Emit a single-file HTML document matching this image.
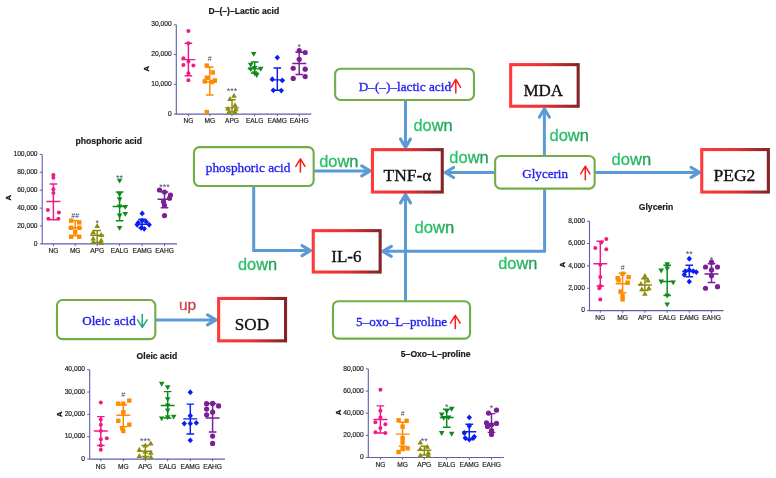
<!DOCTYPE html>
<html><head><meta charset="utf-8"><style>
html,body{margin:0;padding:0;background:#fff;width:776px;height:478px;overflow:hidden;}
svg{display:block;font-family:"Liberation Sans", sans-serif;filter:blur(0.35px);}
</style></head><body>
<svg width="776" height="478" viewBox="0 0 776 478">
<defs>
<linearGradient id="rg" x1="0" y1="0" x2="1" y2="0">
<stop offset="0" stop-color="#ff3a3a"/>
<stop offset="0.5" stop-color="#e43333"/>
<stop offset="1" stop-color="#822428"/>
</linearGradient>
<linearGradient id="dg" x1="0" y1="0" x2="1" y2="0">
<stop offset="0" stop-color="#2cc86e"/>
<stop offset="0.55" stop-color="#27b864"/>
<stop offset="1" stop-color="#1c9a52"/>
</linearGradient>
<linearGradient id="ug" x1="0" y1="0" x2="1" y2="0">
<stop offset="0" stop-color="#e04450"/>
<stop offset="1" stop-color="#b83846"/>
</linearGradient>
</defs>
<rect width="776" height="478" fill="#fff"/>
<text x="243.8" y="14.0" font-family="Liberation Sans" font-weight="bold" font-size="8.6" fill="#1a1a1a" stroke="#1a1a1a" stroke-width="0.2" text-anchor="middle">D–(–)–Lactic acid</text>
<path d="M176.3,24.8 V114.1 H311.3" stroke="#5e5eb0" stroke-width="1.1" fill="none"/>
<path d="M173.8,114.10 H176.3" stroke="#5e5eb0" stroke-width="1"/>
<text x="171.70000000000002" y="115.70" font-family="Liberation Sans" font-size="6.7" fill="#222222" stroke="#222222" stroke-width="0.18" text-anchor="end">0</text>
<path d="M173.8,84.33 H176.3" stroke="#5e5eb0" stroke-width="1"/>
<text x="171.70000000000002" y="85.93" font-family="Liberation Sans" font-size="6.7" fill="#222222" stroke="#222222" stroke-width="0.18" text-anchor="end">10,000</text>
<path d="M173.8,54.57 H176.3" stroke="#5e5eb0" stroke-width="1"/>
<text x="171.70000000000002" y="56.17" font-family="Liberation Sans" font-size="6.7" fill="#222222" stroke="#222222" stroke-width="0.18" text-anchor="end">20,000</text>
<path d="M173.8,24.80 H176.3" stroke="#5e5eb0" stroke-width="1"/>
<text x="171.70000000000002" y="26.40" font-family="Liberation Sans" font-size="6.7" fill="#222222" stroke="#222222" stroke-width="0.18" text-anchor="end">30,000</text>
<text x="0" y="0" transform="translate(148.5,68.7) rotate(-90)" font-family="Liberation Sans" font-weight="bold" font-size="7.5" fill="#111" stroke="#111" stroke-width="0.3" text-anchor="middle">A</text>
<path d="M188.4,114.1 V116.3" stroke="#5e5eb0" stroke-width="1"/>
<text x="188.4" y="123.0" font-family="Liberation Sans" font-size="6.6" fill="#222222" stroke="#222222" stroke-width="0.18" text-anchor="middle">NG</text>
<path d="M188.4,43.26 V75.70 M184.6,43.26 H192.20000000000002 M184.6,75.70 H192.20000000000002 M181.4,59.63 H195.4" stroke="#ee1b84" stroke-width="1.45" fill="none"/>
<circle cx="188.40" cy="31.05" r="2.0" fill="#ee1b84"/>
<circle cx="188.40" cy="43.26" r="2.0" fill="#ee1b84"/>
<circle cx="183.40" cy="58.14" r="2.0" fill="#ee1b84"/>
<circle cx="188.40" cy="61.41" r="2.0" fill="#ee1b84"/>
<circle cx="183.40" cy="64.98" r="2.0" fill="#ee1b84"/>
<circle cx="193.40" cy="65.58" r="2.0" fill="#ee1b84"/>
<circle cx="188.40" cy="73.32" r="2.0" fill="#ee1b84"/>
<circle cx="188.40" cy="80.17" r="2.0" fill="#ee1b84"/>
<path d="M209.8,114.1 V116.3" stroke="#5e5eb0" stroke-width="1"/>
<text x="209.8" y="123.0" font-family="Liberation Sans" font-size="6.6" fill="#222222" stroke="#222222" stroke-width="0.18" text-anchor="middle">MG</text>
<path d="M209.8,67.07 V95.05 M206.0,67.07 H213.60000000000002 M206.0,95.05 H213.60000000000002 M202.8,81.95 H216.8" stroke="#ff8a00" stroke-width="1.45" fill="none"/>
<rect x="204.60" y="63.38" width="4.4" height="4.4" fill="#ff8a00"/>
<rect x="210.60" y="70.23" width="4.4" height="4.4" fill="#ff8a00"/>
<rect x="204.60" y="75.58" width="4.4" height="4.4" fill="#ff8a00"/>
<rect x="212.60" y="78.26" width="4.4" height="4.4" fill="#ff8a00"/>
<rect x="202.60" y="79.16" width="4.4" height="4.4" fill="#ff8a00"/>
<rect x="209.60" y="79.75" width="4.4" height="4.4" fill="#ff8a00"/>
<rect x="204.60" y="109.82" width="4.4" height="4.4" fill="#ff8a00"/>
<text x="209.8" y="61.23" font-family="Liberation Sans" font-size="7" fill="#3a3a6a" text-anchor="middle">#</text>
<path d="M232.0,114.1 V116.3" stroke="#5e5eb0" stroke-width="1"/>
<text x="232.0" y="123.0" font-family="Liberation Sans" font-size="6.6" fill="#222222" stroke="#222222" stroke-width="0.18" text-anchor="middle">APG</text>
<path d="M232.0,99.81 V112.02 M228.2,99.81 H235.8 M228.2,112.02 H235.8 M225.0,107.85 H239.0" stroke="#8c8c10" stroke-width="1.45" fill="none"/>
<path d="M234.00,92.74 L236.80,97.64 L231.20,97.64Z" fill="#8c8c10"/>
<path d="M230.00,96.02 L232.80,100.92 L227.20,100.92Z" fill="#8c8c10"/>
<path d="M235.00,102.27 L237.80,107.17 L232.20,107.17Z" fill="#8c8c10"/>
<path d="M228.00,105.84 L230.80,110.74 L225.20,110.74Z" fill="#8c8c10"/>
<path d="M236.00,106.44 L238.80,111.34 L233.20,111.34Z" fill="#8c8c10"/>
<path d="M229.00,109.12 L231.80,114.02 L226.20,114.02Z" fill="#8c8c10"/>
<path d="M235.00,109.12 L237.80,114.02 L232.20,114.02Z" fill="#8c8c10"/>
<text x="232.0" y="93.61" font-family="Liberation Sans" font-size="9" fill="#4a4a7a" text-anchor="middle">***</text>
<path d="M254.7,114.1 V116.3" stroke="#5e5eb0" stroke-width="1"/>
<text x="254.7" y="123.0" font-family="Liberation Sans" font-size="6.6" fill="#222222" stroke="#222222" stroke-width="0.18" text-anchor="middle">EALG</text>
<path d="M254.7,62.01 V73.02 M250.89999999999998,62.01 H258.5 M250.89999999999998,73.02 H258.5 M247.7,68.85 H261.7" stroke="#0c8a1c" stroke-width="1.45" fill="none"/>
<path d="M253.70,56.87 L256.50,51.97 L250.90,51.97Z" fill="#0c8a1c"/>
<path d="M250.70,67.59 L253.50,62.69 L247.90,62.69Z" fill="#0c8a1c"/>
<path d="M260.70,71.75 L263.50,66.85 L257.90,66.85Z" fill="#0c8a1c"/>
<path d="M250.70,72.05 L253.50,67.15 L247.90,67.15Z" fill="#0c8a1c"/>
<path d="M254.70,70.86 L257.50,65.96 L251.90,65.96Z" fill="#0c8a1c"/>
<path d="M254.70,76.22 L257.50,71.32 L251.90,71.32Z" fill="#0c8a1c"/>
<path d="M256.70,78.01 L259.50,73.11 L253.90,73.11Z" fill="#0c8a1c"/>
<path d="M277.3,114.1 V116.3" stroke="#5e5eb0" stroke-width="1"/>
<text x="277.3" y="123.0" font-family="Liberation Sans" font-size="6.6" fill="#222222" stroke="#222222" stroke-width="0.18" text-anchor="middle">EAMG</text>
<path d="M277.3,67.96 V90.29 M273.5,67.96 H281.1 M273.5,90.29 H281.1 M270.3,79.87 H284.3" stroke="#0a1ef0" stroke-width="1.45" fill="none"/>
<path d="M277.30,54.64 L280.00,57.54 L277.30,60.44 L274.60,57.54Z" fill="#0a1ef0"/>
<path d="M272.30,76.37 L275.00,79.27 L272.30,82.17 L269.60,79.27Z" fill="#0a1ef0"/>
<path d="M282.30,77.56 L285.00,80.46 L282.30,83.36 L279.60,80.46Z" fill="#0a1ef0"/>
<path d="M273.30,87.39 L276.00,90.29 L273.30,93.19 L270.60,90.29Z" fill="#0a1ef0"/>
<path d="M281.30,87.68 L284.00,90.58 L281.30,93.48 L278.60,90.58Z" fill="#0a1ef0"/>
<path d="M299.2,114.1 V116.3" stroke="#5e5eb0" stroke-width="1"/>
<text x="299.2" y="123.0" font-family="Liberation Sans" font-size="6.6" fill="#222222" stroke="#222222" stroke-width="0.18" text-anchor="middle">EAHG</text>
<path d="M299.2,52.19 V74.51 M295.4,52.19 H303.0 M295.4,74.51 H303.0 M292.2,63.50 H306.2" stroke="#7a1f96" stroke-width="1.45" fill="none"/>
<circle cx="299.20" cy="50.70" r="2.6" fill="#7a1f96"/>
<circle cx="305.20" cy="52.48" r="2.6" fill="#7a1f96"/>
<circle cx="299.20" cy="59.33" r="2.6" fill="#7a1f96"/>
<circle cx="293.20" cy="68.26" r="2.6" fill="#7a1f96"/>
<circle cx="305.20" cy="69.15" r="2.6" fill="#7a1f96"/>
<circle cx="293.20" cy="78.38" r="2.6" fill="#7a1f96"/>
<circle cx="305.20" cy="76.59" r="2.6" fill="#7a1f96"/>
<text x="299.2" y="50.44" font-family="Liberation Sans" font-size="9" fill="#4a4a7a" text-anchor="middle">*</text>
<text x="108.8" y="143.5" font-family="Liberation Sans" font-weight="bold" font-size="8.6" fill="#1a1a1a" stroke="#1a1a1a" stroke-width="0.2" text-anchor="middle">phosphoric acid</text>
<path d="M42.2,154.4 V243.9 H177.0" stroke="#5e5eb0" stroke-width="1.1" fill="none"/>
<path d="M39.7,243.90 H42.2" stroke="#5e5eb0" stroke-width="1"/>
<text x="37.6" y="245.50" font-family="Liberation Sans" font-size="6.7" fill="#222222" stroke="#222222" stroke-width="0.18" text-anchor="end">0</text>
<path d="M39.7,226.00 H42.2" stroke="#5e5eb0" stroke-width="1"/>
<text x="37.6" y="227.60" font-family="Liberation Sans" font-size="6.7" fill="#222222" stroke="#222222" stroke-width="0.18" text-anchor="end">20,000</text>
<path d="M39.7,208.10 H42.2" stroke="#5e5eb0" stroke-width="1"/>
<text x="37.6" y="209.70" font-family="Liberation Sans" font-size="6.7" fill="#222222" stroke="#222222" stroke-width="0.18" text-anchor="end">40,000</text>
<path d="M39.7,190.20 H42.2" stroke="#5e5eb0" stroke-width="1"/>
<text x="37.6" y="191.80" font-family="Liberation Sans" font-size="6.7" fill="#222222" stroke="#222222" stroke-width="0.18" text-anchor="end">60,000</text>
<path d="M39.7,172.30 H42.2" stroke="#5e5eb0" stroke-width="1"/>
<text x="37.6" y="173.90" font-family="Liberation Sans" font-size="6.7" fill="#222222" stroke="#222222" stroke-width="0.18" text-anchor="end">80,000</text>
<path d="M39.7,154.40 H42.2" stroke="#5e5eb0" stroke-width="1"/>
<text x="37.6" y="156.00" font-family="Liberation Sans" font-size="6.7" fill="#222222" stroke="#222222" stroke-width="0.18" text-anchor="end">100,000</text>
<text x="0" y="0" transform="translate(10.85,197.8) rotate(-90)" font-family="Liberation Sans" font-weight="bold" font-size="7.5" fill="#111" stroke="#111" stroke-width="0.3" text-anchor="middle">A</text>
<path d="M53.4,243.9 V246.1" stroke="#5e5eb0" stroke-width="1"/>
<text x="53.4" y="253.2" font-family="Liberation Sans" font-size="6.6" fill="#222222" stroke="#222222" stroke-width="0.18" text-anchor="middle">NG</text>
<path d="M53.4,183.94 V219.74 M49.6,183.94 H57.199999999999996 M49.6,219.74 H57.199999999999996 M46.4,201.57 H60.4" stroke="#ee1b84" stroke-width="1.45" fill="none"/>
<circle cx="53.40" cy="174.99" r="2.0" fill="#ee1b84"/>
<circle cx="53.40" cy="177.67" r="2.0" fill="#ee1b84"/>
<circle cx="53.40" cy="189.31" r="2.0" fill="#ee1b84"/>
<circle cx="53.40" cy="192.89" r="2.0" fill="#ee1b84"/>
<circle cx="47.90" cy="209.89" r="2.0" fill="#ee1b84"/>
<circle cx="58.90" cy="212.58" r="2.0" fill="#ee1b84"/>
<circle cx="48.40" cy="218.84" r="2.0" fill="#ee1b84"/>
<circle cx="58.40" cy="218.84" r="2.0" fill="#ee1b84"/>
<path d="M75.2,243.9 V246.1" stroke="#5e5eb0" stroke-width="1"/>
<text x="75.2" y="253.2" font-family="Liberation Sans" font-size="6.6" fill="#222222" stroke="#222222" stroke-width="0.18" text-anchor="middle">MG</text>
<path d="M75.2,220.63 V235.84 M71.4,220.63 H79.0 M71.4,235.84 H79.0 M68.2,227.79 H82.2" stroke="#ff8a00" stroke-width="1.45" fill="none"/>
<rect x="69.00" y="218.43" width="4.4" height="4.4" fill="#ff8a00"/>
<rect x="77.00" y="220.22" width="4.4" height="4.4" fill="#ff8a00"/>
<rect x="69.00" y="225.59" width="4.4" height="4.4" fill="#ff8a00"/>
<rect x="77.00" y="225.59" width="4.4" height="4.4" fill="#ff8a00"/>
<rect x="73.00" y="230.07" width="4.4" height="4.4" fill="#ff8a00"/>
<rect x="69.00" y="234.54" width="4.4" height="4.4" fill="#ff8a00"/>
<rect x="77.00" y="234.54" width="4.4" height="4.4" fill="#ff8a00"/>
<text x="75.2" y="218.12" font-family="Liberation Sans" font-size="7" fill="#3a3a6a" text-anchor="middle">##</text>
<path d="M97.2,243.9 V246.1" stroke="#5e5eb0" stroke-width="1"/>
<text x="97.2" y="253.2" font-family="Liberation Sans" font-size="6.6" fill="#222222" stroke="#222222" stroke-width="0.18" text-anchor="middle">APG</text>
<path d="M97.2,230.47 V242.56 M93.4,230.47 H101.0 M93.4,242.56 H101.0 M90.2,235.22 H104.2" stroke="#8c8c10" stroke-width="1.45" fill="none"/>
<path d="M97.20,223.10 L100.00,228.00 L94.40,228.00Z" fill="#8c8c10"/>
<path d="M93.20,229.37 L96.00,234.27 L90.40,234.27Z" fill="#8c8c10"/>
<path d="M101.20,232.05 L104.00,236.95 L98.40,236.95Z" fill="#8c8c10"/>
<path d="M93.20,235.63 L96.00,240.53 L90.40,240.53Z" fill="#8c8c10"/>
<path d="M101.20,237.42 L104.00,242.32 L98.40,242.32Z" fill="#8c8c10"/>
<path d="M93.20,239.21 L96.00,244.11 L90.40,244.11Z" fill="#8c8c10"/>
<path d="M101.20,240.10 L104.00,245.00 L98.40,245.00Z" fill="#8c8c10"/>
<text x="97.2" y="226.33" font-family="Liberation Sans" font-size="9" fill="#4a4a7a" text-anchor="middle">*</text>
<path d="M119.6,243.9 V246.1" stroke="#5e5eb0" stroke-width="1"/>
<text x="119.6" y="253.2" font-family="Liberation Sans" font-size="6.6" fill="#222222" stroke="#222222" stroke-width="0.18" text-anchor="middle">EALG</text>
<path d="M119.6,191.99 V220.72 M115.8,191.99 H123.39999999999999 M115.8,220.72 H123.39999999999999 M112.6,206.40 H126.6" stroke="#0c8a1c" stroke-width="1.45" fill="none"/>
<path d="M119.60,183.61 L122.40,178.71 L116.80,178.71Z" fill="#0c8a1c"/>
<path d="M119.60,197.04 L122.40,192.14 L116.80,192.14Z" fill="#0c8a1c"/>
<path d="M119.60,202.14 L122.40,197.24 L116.80,197.24Z" fill="#0c8a1c"/>
<path d="M119.60,209.30 L122.40,204.40 L116.80,204.40Z" fill="#0c8a1c"/>
<path d="M125.30,209.84 L128.10,204.94 L122.50,204.94Z" fill="#0c8a1c"/>
<path d="M125.30,216.82 L128.10,211.92 L122.50,211.92Z" fill="#0c8a1c"/>
<path d="M119.60,218.52 L122.40,213.62 L116.80,213.62Z" fill="#0c8a1c"/>
<path d="M119.60,230.78 L122.40,225.88 L116.80,225.88Z" fill="#0c8a1c"/>
<text x="119.6" y="181.04" font-family="Liberation Sans" font-size="9" fill="#4a4a7a" text-anchor="middle">**</text>
<path d="M142.2,243.9 V246.1" stroke="#5e5eb0" stroke-width="1"/>
<text x="142.2" y="253.2" font-family="Liberation Sans" font-size="6.6" fill="#222222" stroke="#222222" stroke-width="0.18" text-anchor="middle">EAMG</text>
<path d="M142.2,219.29 V227.88 M138.39999999999998,219.29 H146.0 M138.39999999999998,227.88 H146.0 M135.2,224.21 H149.2" stroke="#0a1ef0" stroke-width="1.45" fill="none"/>
<path d="M142.20,210.57 L144.90,213.47 L142.20,216.37 L139.50,213.47Z" fill="#0a1ef0"/>
<path d="M142.20,217.82 L144.90,220.72 L142.20,223.62 L139.50,220.72Z" fill="#0a1ef0"/>
<path d="M138.20,219.79 L140.90,222.69 L138.20,225.59 L135.50,222.69Z" fill="#0a1ef0"/>
<path d="M146.20,218.80 L148.90,221.70 L146.20,224.60 L143.50,221.70Z" fill="#0a1ef0"/>
<path d="M149.20,221.85 L151.90,224.75 L149.20,227.65 L146.50,224.75Z" fill="#0a1ef0"/>
<path d="M137.20,221.85 L139.90,224.75 L137.20,227.65 L134.50,224.75Z" fill="#0a1ef0"/>
<path d="M141.20,224.98 L143.90,227.88 L141.20,230.78 L138.50,227.88Z" fill="#0a1ef0"/>
<path d="M144.20,225.96 L146.90,228.86 L144.20,231.76 L141.50,228.86Z" fill="#0a1ef0"/>
<path d="M164.5,243.9 V246.1" stroke="#5e5eb0" stroke-width="1"/>
<text x="164.5" y="253.2" font-family="Liberation Sans" font-size="6.6" fill="#222222" stroke="#222222" stroke-width="0.18" text-anchor="middle">EAHG</text>
<path d="M164.5,191.99 V207.83 M160.7,191.99 H168.3 M160.7,207.83 H168.3 M157.5,199.24 H171.5" stroke="#7a1f96" stroke-width="1.45" fill="none"/>
<circle cx="159.50" cy="190.02" r="2.6" fill="#7a1f96"/>
<circle cx="164.50" cy="191.99" r="2.6" fill="#7a1f96"/>
<circle cx="170.50" cy="195.12" r="2.6" fill="#7a1f96"/>
<circle cx="169.50" cy="198.25" r="2.6" fill="#7a1f96"/>
<circle cx="163.50" cy="201.84" r="2.6" fill="#7a1f96"/>
<circle cx="164.50" cy="205.42" r="2.6" fill="#7a1f96"/>
<circle cx="164.50" cy="215.62" r="2.6" fill="#7a1f96"/>
<text x="164.5" y="190.08" font-family="Liberation Sans" font-size="9" fill="#4a4a7a" text-anchor="middle">***</text>
<text x="656.0" y="209.8" font-family="Liberation Sans" font-weight="bold" font-size="8.6" fill="#1a1a1a" stroke="#1a1a1a" stroke-width="0.2" text-anchor="middle">Glycerin</text>
<path d="M589.5,221.2 V310.6 H723.5" stroke="#5e5eb0" stroke-width="1.1" fill="none"/>
<path d="M587.0,310.60 H589.5" stroke="#5e5eb0" stroke-width="1"/>
<text x="584.9" y="312.20" font-family="Liberation Sans" font-size="6.7" fill="#222222" stroke="#222222" stroke-width="0.18" text-anchor="end">0</text>
<path d="M587.0,288.25 H589.5" stroke="#5e5eb0" stroke-width="1"/>
<text x="584.9" y="289.85" font-family="Liberation Sans" font-size="6.7" fill="#222222" stroke="#222222" stroke-width="0.18" text-anchor="end">2,000</text>
<path d="M587.0,265.90 H589.5" stroke="#5e5eb0" stroke-width="1"/>
<text x="584.9" y="267.50" font-family="Liberation Sans" font-size="6.7" fill="#222222" stroke="#222222" stroke-width="0.18" text-anchor="end">4,000</text>
<path d="M587.0,243.55 H589.5" stroke="#5e5eb0" stroke-width="1"/>
<text x="584.9" y="245.15" font-family="Liberation Sans" font-size="6.7" fill="#222222" stroke="#222222" stroke-width="0.18" text-anchor="end">6,000</text>
<path d="M587.0,221.20 H589.5" stroke="#5e5eb0" stroke-width="1"/>
<text x="584.9" y="222.80" font-family="Liberation Sans" font-size="6.7" fill="#222222" stroke="#222222" stroke-width="0.18" text-anchor="end">8,000</text>
<text x="0" y="0" transform="translate(564.85,264.7) rotate(-90)" font-family="Liberation Sans" font-weight="bold" font-size="7.5" fill="#111" stroke="#111" stroke-width="0.3" text-anchor="middle">A</text>
<path d="M600.3,310.6 V312.8" stroke="#5e5eb0" stroke-width="1"/>
<text x="600.3" y="319.5" font-family="Liberation Sans" font-size="6.6" fill="#222222" stroke="#222222" stroke-width="0.18" text-anchor="middle">NG</text>
<path d="M600.3,241.31 V286.01 M596.5,241.31 H604.0999999999999 M596.5,286.01 H604.0999999999999 M593.3,263.67 H607.3" stroke="#ee1b84" stroke-width="1.45" fill="none"/>
<circle cx="606.30" cy="239.08" r="2.0" fill="#ee1b84"/>
<circle cx="601.30" cy="242.43" r="2.0" fill="#ee1b84"/>
<circle cx="595.30" cy="248.02" r="2.0" fill="#ee1b84"/>
<circle cx="606.30" cy="249.14" r="2.0" fill="#ee1b84"/>
<circle cx="600.30" cy="264.78" r="2.0" fill="#ee1b84"/>
<circle cx="600.30" cy="277.07" r="2.0" fill="#ee1b84"/>
<circle cx="600.30" cy="286.01" r="2.0" fill="#ee1b84"/>
<circle cx="599.30" cy="288.25" r="2.0" fill="#ee1b84"/>
<circle cx="600.30" cy="299.43" r="2.0" fill="#ee1b84"/>
<path d="M622.6,310.6 V312.8" stroke="#5e5eb0" stroke-width="1"/>
<text x="622.6" y="319.5" font-family="Liberation Sans" font-size="6.6" fill="#222222" stroke="#222222" stroke-width="0.18" text-anchor="middle">MG</text>
<path d="M622.6,273.16 V292.72 M618.8000000000001,273.16 H626.4 M618.8000000000001,292.72 H626.4 M615.6,283.78 H629.6" stroke="#ff8a00" stroke-width="1.45" fill="none"/>
<rect x="620.40" y="271.52" width="4.4" height="4.4" fill="#ff8a00"/>
<rect x="626.40" y="274.88" width="4.4" height="4.4" fill="#ff8a00"/>
<rect x="615.40" y="275.99" width="4.4" height="4.4" fill="#ff8a00"/>
<rect x="616.40" y="278.23" width="4.4" height="4.4" fill="#ff8a00"/>
<rect x="625.40" y="280.46" width="4.4" height="4.4" fill="#ff8a00"/>
<rect x="618.40" y="289.40" width="4.4" height="4.4" fill="#ff8a00"/>
<rect x="620.40" y="293.87" width="4.4" height="4.4" fill="#ff8a00"/>
<rect x="620.40" y="297.23" width="4.4" height="4.4" fill="#ff8a00"/>
<text x="622.6" y="270.08" font-family="Liberation Sans" font-size="7" fill="#3a3a6a" text-anchor="middle">#</text>
<path d="M644.9,310.6 V312.8" stroke="#5e5eb0" stroke-width="1"/>
<text x="644.9" y="319.5" font-family="Liberation Sans" font-size="6.6" fill="#222222" stroke="#222222" stroke-width="0.18" text-anchor="middle">APG</text>
<path d="M644.9,278.75 V290.49 M641.1,278.75 H648.6999999999999 M641.1,290.49 H648.6999999999999 M637.9,284.90 H651.9" stroke="#8c8c10" stroke-width="1.45" fill="none"/>
<path d="M644.90,273.06 L647.70,277.96 L642.10,277.96Z" fill="#8c8c10"/>
<path d="M647.90,277.53 L650.70,282.43 L645.10,282.43Z" fill="#8c8c10"/>
<path d="M640.90,280.88 L643.70,285.78 L638.10,285.78Z" fill="#8c8c10"/>
<path d="M648.90,285.35 L651.70,290.25 L646.10,290.25Z" fill="#8c8c10"/>
<path d="M641.90,286.47 L644.70,291.37 L639.10,291.37Z" fill="#8c8c10"/>
<path d="M644.90,290.94 L647.70,295.84 L642.10,295.84Z" fill="#8c8c10"/>
<path d="M667.2,310.6 V312.8" stroke="#5e5eb0" stroke-width="1"/>
<text x="667.2" y="319.5" font-family="Liberation Sans" font-size="6.6" fill="#222222" stroke="#222222" stroke-width="0.18" text-anchor="middle">EALG</text>
<path d="M667.2,265.34 V295.51 M663.4000000000001,265.34 H671.0 M663.4000000000001,295.51 H671.0 M660.2,281.55 H674.2" stroke="#0c8a1c" stroke-width="1.45" fill="none"/>
<path d="M667.20,267.24 L670.00,262.34 L664.40,262.34Z" fill="#0c8a1c"/>
<path d="M667.20,271.37 L670.00,266.47 L664.40,266.47Z" fill="#0c8a1c"/>
<path d="M661.20,273.49 L664.00,268.59 L658.40,268.59Z" fill="#0c8a1c"/>
<path d="M661.20,284.44 L664.00,279.55 L658.40,279.55Z" fill="#0c8a1c"/>
<path d="M673.20,285.34 L676.00,280.44 L670.40,280.44Z" fill="#0c8a1c"/>
<path d="M667.20,298.41 L670.00,293.51 L664.40,293.51Z" fill="#0c8a1c"/>
<path d="M667.20,307.35 L670.00,302.45 L664.40,302.45Z" fill="#0c8a1c"/>
<path d="M689.3,310.6 V312.8" stroke="#5e5eb0" stroke-width="1"/>
<text x="689.3" y="319.5" font-family="Liberation Sans" font-size="6.6" fill="#222222" stroke="#222222" stroke-width="0.18" text-anchor="middle">EAMG</text>
<path d="M689.3,265.34 V276.74 M685.5,265.34 H693.0999999999999 M685.5,276.74 H693.0999999999999 M682.3,271.49 H696.3" stroke="#0a1ef0" stroke-width="1.45" fill="none"/>
<path d="M689.30,255.85 L692.00,258.75 L689.30,261.65 L686.60,258.75Z" fill="#0a1ef0"/>
<path d="M689.30,267.02 L692.00,269.92 L689.30,272.82 L686.60,269.92Z" fill="#0a1ef0"/>
<path d="M685.30,268.25 L688.00,271.15 L685.30,274.05 L682.60,271.15Z" fill="#0a1ef0"/>
<path d="M693.30,268.25 L696.00,271.15 L693.30,274.05 L690.60,271.15Z" fill="#0a1ef0"/>
<path d="M696.30,269.15 L699.00,272.05 L696.30,274.95 L693.60,272.05Z" fill="#0a1ef0"/>
<path d="M684.30,271.83 L687.00,274.73 L684.30,277.63 L681.60,274.73Z" fill="#0a1ef0"/>
<path d="M689.30,278.65 L692.00,281.55 L689.30,284.44 L686.60,281.55Z" fill="#0a1ef0"/>
<text x="689.3" y="257.07" font-family="Liberation Sans" font-size="9" fill="#4a4a7a" text-anchor="middle">**</text>
<path d="M711.5,310.6 V312.8" stroke="#5e5eb0" stroke-width="1"/>
<text x="711.5" y="319.5" font-family="Liberation Sans" font-size="6.6" fill="#222222" stroke="#222222" stroke-width="0.18" text-anchor="middle">EAHG</text>
<path d="M711.5,263.67 V282.44 M707.7,263.67 H715.3 M707.7,282.44 H715.3 M704.5,274.06 H718.5" stroke="#7a1f96" stroke-width="1.45" fill="none"/>
<circle cx="711.50" cy="262.21" r="2.6" fill="#7a1f96"/>
<circle cx="705.50" cy="267.02" r="2.6" fill="#7a1f96"/>
<circle cx="717.50" cy="267.02" r="2.6" fill="#7a1f96"/>
<circle cx="711.50" cy="269.92" r="2.6" fill="#7a1f96"/>
<circle cx="711.50" cy="275.73" r="2.6" fill="#7a1f96"/>
<circle cx="705.50" cy="288.25" r="2.6" fill="#7a1f96"/>
<circle cx="717.50" cy="286.69" r="2.6" fill="#7a1f96"/>
<text x="711.5" y="263.22" font-family="Liberation Sans" font-size="9" fill="#4a4a7a" text-anchor="middle">*</text>
<text x="156.9" y="359.0" font-family="Liberation Sans" font-weight="bold" font-size="8.6" fill="#1a1a1a" stroke="#1a1a1a" stroke-width="0.2" text-anchor="middle">Oleic acid</text>
<path d="M89.7,369.7 V459.1 H225.0" stroke="#5e5eb0" stroke-width="1.1" fill="none"/>
<path d="M87.2,459.10 H89.7" stroke="#5e5eb0" stroke-width="1"/>
<text x="85.10000000000001" y="460.70" font-family="Liberation Sans" font-size="6.7" fill="#222222" stroke="#222222" stroke-width="0.18" text-anchor="end">0</text>
<path d="M87.2,436.75 H89.7" stroke="#5e5eb0" stroke-width="1"/>
<text x="85.10000000000001" y="438.35" font-family="Liberation Sans" font-size="6.7" fill="#222222" stroke="#222222" stroke-width="0.18" text-anchor="end">10,000</text>
<path d="M87.2,414.40 H89.7" stroke="#5e5eb0" stroke-width="1"/>
<text x="85.10000000000001" y="416.00" font-family="Liberation Sans" font-size="6.7" fill="#222222" stroke="#222222" stroke-width="0.18" text-anchor="end">20,000</text>
<path d="M87.2,392.05 H89.7" stroke="#5e5eb0" stroke-width="1"/>
<text x="85.10000000000001" y="393.65" font-family="Liberation Sans" font-size="6.7" fill="#222222" stroke="#222222" stroke-width="0.18" text-anchor="end">30,000</text>
<path d="M87.2,369.70 H89.7" stroke="#5e5eb0" stroke-width="1"/>
<text x="85.10000000000001" y="371.30" font-family="Liberation Sans" font-size="6.7" fill="#222222" stroke="#222222" stroke-width="0.18" text-anchor="end">40,000</text>
<text x="0" y="0" transform="translate(61.65,414.2) rotate(-90)" font-family="Liberation Sans" font-weight="bold" font-size="7.5" fill="#111" stroke="#111" stroke-width="0.3" text-anchor="middle">A</text>
<path d="M100.8,459.1 V461.3" stroke="#5e5eb0" stroke-width="1"/>
<text x="100.8" y="468.6" font-family="Liberation Sans" font-size="6.6" fill="#222222" stroke="#222222" stroke-width="0.18" text-anchor="middle">NG</text>
<path d="M100.8,416.63 V445.47 M97.0,416.63 H104.6 M97.0,445.47 H104.6 M93.8,430.94 H107.8" stroke="#ee1b84" stroke-width="1.45" fill="none"/>
<circle cx="100.80" cy="402.55" r="2.0" fill="#ee1b84"/>
<circle cx="100.80" cy="419.54" r="2.0" fill="#ee1b84"/>
<circle cx="100.80" cy="424.68" r="2.0" fill="#ee1b84"/>
<circle cx="100.80" cy="430.94" r="2.0" fill="#ee1b84"/>
<circle cx="106.80" cy="438.31" r="2.0" fill="#ee1b84"/>
<circle cx="100.80" cy="439.21" r="2.0" fill="#ee1b84"/>
<circle cx="100.80" cy="445.47" r="2.0" fill="#ee1b84"/>
<circle cx="100.80" cy="449.71" r="2.0" fill="#ee1b84"/>
<path d="M123.3,459.1 V461.3" stroke="#5e5eb0" stroke-width="1"/>
<text x="123.3" y="468.6" font-family="Liberation Sans" font-size="6.6" fill="#222222" stroke="#222222" stroke-width="0.18" text-anchor="middle">MG</text>
<path d="M123.3,404.79 V426.69 M119.5,404.79 H127.1 M119.5,426.69 H127.1 M116.3,415.29 H130.3" stroke="#ff8a00" stroke-width="1.45" fill="none"/>
<rect x="127.10" y="398.34" width="4.4" height="4.4" fill="#ff8a00"/>
<rect x="116.10" y="401.47" width="4.4" height="4.4" fill="#ff8a00"/>
<rect x="121.10" y="401.47" width="4.4" height="4.4" fill="#ff8a00"/>
<rect x="121.10" y="409.97" width="4.4" height="4.4" fill="#ff8a00"/>
<rect x="116.10" y="418.68" width="4.4" height="4.4" fill="#ff8a00"/>
<rect x="127.10" y="422.48" width="4.4" height="4.4" fill="#ff8a00"/>
<rect x="120.10" y="426.28" width="4.4" height="4.4" fill="#ff8a00"/>
<rect x="121.10" y="428.74" width="4.4" height="4.4" fill="#ff8a00"/>
<text x="123.3" y="396.78" font-family="Liberation Sans" font-size="7" fill="#3a3a6a" text-anchor="middle">#</text>
<path d="M145.3,459.1 V461.3" stroke="#5e5eb0" stroke-width="1"/>
<text x="145.3" y="468.6" font-family="Liberation Sans" font-size="6.6" fill="#222222" stroke="#222222" stroke-width="0.18" text-anchor="middle">APG</text>
<path d="M145.3,445.47 V456.42 M141.5,445.47 H149.10000000000002 M141.5,456.42 H149.10000000000002 M138.3,451.28 H152.3" stroke="#8c8c10" stroke-width="1.45" fill="none"/>
<path d="M150.80,440.56 L153.60,445.46 L148.00,445.46Z" fill="#8c8c10"/>
<path d="M145.30,442.57 L148.10,447.47 L142.50,447.47Z" fill="#8c8c10"/>
<path d="M139.30,446.81 L142.10,451.71 L136.50,451.71Z" fill="#8c8c10"/>
<path d="M145.30,448.82 L148.10,453.72 L142.50,453.72Z" fill="#8c8c10"/>
<path d="M150.80,449.94 L153.60,454.84 L148.00,454.84Z" fill="#8c8c10"/>
<path d="M139.30,453.07 L142.10,457.97 L136.50,457.97Z" fill="#8c8c10"/>
<path d="M145.30,454.19 L148.10,459.09 L142.50,459.09Z" fill="#8c8c10"/>
<path d="M150.80,454.19 L153.60,459.09 L148.00,459.09Z" fill="#8c8c10"/>
<text x="145.3" y="444.01" font-family="Liberation Sans" font-size="9" fill="#4a4a7a" text-anchor="middle">***</text>
<path d="M167.7,459.1 V461.3" stroke="#5e5eb0" stroke-width="1"/>
<text x="167.7" y="468.6" font-family="Liberation Sans" font-size="6.6" fill="#222222" stroke="#222222" stroke-width="0.18" text-anchor="middle">EALG</text>
<path d="M167.7,391.60 V417.98 M163.89999999999998,391.60 H171.5 M163.89999999999998,417.98 H171.5 M160.7,405.46 H174.7" stroke="#0c8a1c" stroke-width="1.45" fill="none"/>
<path d="M161.70,386.68 L164.50,381.78 L158.90,381.78Z" fill="#0c8a1c"/>
<path d="M167.70,390.26 L170.50,385.36 L164.90,385.36Z" fill="#0c8a1c"/>
<path d="M167.70,402.10 L170.50,397.20 L164.90,397.20Z" fill="#0c8a1c"/>
<path d="M167.70,408.36 L170.50,403.46 L164.90,403.46Z" fill="#0c8a1c"/>
<path d="M167.70,413.28 L170.50,408.38 L164.90,408.38Z" fill="#0c8a1c"/>
<path d="M167.70,420.21 L170.50,415.31 L164.90,415.31Z" fill="#0c8a1c"/>
<path d="M161.70,421.32 L164.50,416.42 L158.90,416.42Z" fill="#0c8a1c"/>
<path d="M173.70,419.53 L176.50,414.63 L170.90,414.63Z" fill="#0c8a1c"/>
<path d="M190.3,459.1 V461.3" stroke="#5e5eb0" stroke-width="1"/>
<text x="190.3" y="468.6" font-family="Liberation Sans" font-size="6.6" fill="#222222" stroke="#222222" stroke-width="0.18" text-anchor="middle">EAMG</text>
<path d="M190.3,404.12 V434.07 M186.5,404.12 H194.10000000000002 M186.5,434.07 H194.10000000000002 M183.3,418.87 H197.3" stroke="#0a1ef0" stroke-width="1.45" fill="none"/>
<path d="M190.30,389.37 L193.00,392.27 L190.30,395.17 L187.60,392.27Z" fill="#0a1ef0"/>
<path d="M190.30,412.84 L193.00,415.74 L190.30,418.64 L187.60,415.74Z" fill="#0a1ef0"/>
<path d="M184.30,420.66 L187.00,423.56 L184.30,426.46 L181.60,423.56Z" fill="#0a1ef0"/>
<path d="M196.30,419.99 L199.00,422.89 L196.30,425.79 L193.60,422.89Z" fill="#0a1ef0"/>
<path d="M190.30,420.66 L193.00,423.56 L190.30,426.46 L187.60,423.56Z" fill="#0a1ef0"/>
<path d="M190.30,437.43 L193.00,440.33 L190.30,443.23 L187.60,440.33Z" fill="#0a1ef0"/>
<path d="M212.6,459.1 V461.3" stroke="#5e5eb0" stroke-width="1"/>
<text x="212.6" y="468.6" font-family="Liberation Sans" font-size="6.6" fill="#222222" stroke="#222222" stroke-width="0.18" text-anchor="middle">EAHG</text>
<path d="M212.6,403.45 V432.06 M208.79999999999998,403.45 H216.4 M208.79999999999998,432.06 H216.4 M205.6,417.98 H219.6" stroke="#7a1f96" stroke-width="1.45" fill="none"/>
<circle cx="206.60" cy="403.67" r="2.6" fill="#7a1f96"/>
<circle cx="212.60" cy="403.45" r="2.6" fill="#7a1f96"/>
<circle cx="218.60" cy="405.91" r="2.6" fill="#7a1f96"/>
<circle cx="206.60" cy="409.04" r="2.6" fill="#7a1f96"/>
<circle cx="212.60" cy="412.17" r="2.6" fill="#7a1f96"/>
<circle cx="206.60" cy="414.85" r="2.6" fill="#7a1f96"/>
<circle cx="212.60" cy="436.08" r="2.6" fill="#7a1f96"/>
<circle cx="212.60" cy="443.46" r="2.6" fill="#7a1f96"/>
<text x="435.7" y="357.2" font-family="Liberation Sans" font-weight="bold" font-size="8.6" fill="#1a1a1a" stroke="#1a1a1a" stroke-width="0.2" text-anchor="middle">5–Oxo–L–proline</text>
<path d="M368.3,368.9 V457.5 H504.0" stroke="#5e5eb0" stroke-width="1.1" fill="none"/>
<path d="M365.8,457.50 H368.3" stroke="#5e5eb0" stroke-width="1"/>
<text x="363.7" y="459.10" font-family="Liberation Sans" font-size="6.7" fill="#222222" stroke="#222222" stroke-width="0.18" text-anchor="end">0</text>
<path d="M365.8,435.35 H368.3" stroke="#5e5eb0" stroke-width="1"/>
<text x="363.7" y="436.95" font-family="Liberation Sans" font-size="6.7" fill="#222222" stroke="#222222" stroke-width="0.18" text-anchor="end">20,000</text>
<path d="M365.8,413.20 H368.3" stroke="#5e5eb0" stroke-width="1"/>
<text x="363.7" y="414.80" font-family="Liberation Sans" font-size="6.7" fill="#222222" stroke="#222222" stroke-width="0.18" text-anchor="end">40,000</text>
<path d="M365.8,391.05 H368.3" stroke="#5e5eb0" stroke-width="1"/>
<text x="363.7" y="392.65" font-family="Liberation Sans" font-size="6.7" fill="#222222" stroke="#222222" stroke-width="0.18" text-anchor="end">60,000</text>
<path d="M365.8,368.90 H368.3" stroke="#5e5eb0" stroke-width="1"/>
<text x="363.7" y="370.50" font-family="Liberation Sans" font-size="6.7" fill="#222222" stroke="#222222" stroke-width="0.18" text-anchor="end">80,000</text>
<text x="0" y="0" transform="translate(340.75,412.6) rotate(-90)" font-family="Liberation Sans" font-weight="bold" font-size="7.5" fill="#111" stroke="#111" stroke-width="0.3" text-anchor="middle">A</text>
<path d="M380.4,457.5 V459.7" stroke="#5e5eb0" stroke-width="1"/>
<text x="380.4" y="467.2" font-family="Liberation Sans" font-size="6.6" fill="#222222" stroke="#222222" stroke-width="0.18" text-anchor="middle">NG</text>
<path d="M380.4,405.89 V433.02 M376.59999999999997,405.89 H384.2 M376.59999999999997,433.02 H384.2 M373.4,419.40 H387.4" stroke="#ee1b84" stroke-width="1.45" fill="none"/>
<circle cx="380.40" cy="389.72" r="2.0" fill="#ee1b84"/>
<circle cx="380.40" cy="410.76" r="2.0" fill="#ee1b84"/>
<circle cx="380.40" cy="417.41" r="2.0" fill="#ee1b84"/>
<circle cx="375.40" cy="422.28" r="2.0" fill="#ee1b84"/>
<circle cx="385.40" cy="424.27" r="2.0" fill="#ee1b84"/>
<circle cx="380.40" cy="428.04" r="2.0" fill="#ee1b84"/>
<circle cx="375.40" cy="432.36" r="2.0" fill="#ee1b84"/>
<circle cx="385.40" cy="433.02" r="2.0" fill="#ee1b84"/>
<path d="M402.6,457.5 V459.7" stroke="#5e5eb0" stroke-width="1"/>
<text x="402.6" y="467.2" font-family="Liberation Sans" font-size="6.6" fill="#222222" stroke="#222222" stroke-width="0.18" text-anchor="middle">MG</text>
<path d="M402.6,422.28 V446.20 M398.8,422.28 H406.40000000000003 M398.8,446.20 H406.40000000000003 M395.6,434.13 H409.6" stroke="#ff8a00" stroke-width="1.45" fill="none"/>
<rect x="396.40" y="418.09" width="4.4" height="4.4" fill="#ff8a00"/>
<rect x="404.40" y="418.64" width="4.4" height="4.4" fill="#ff8a00"/>
<rect x="400.40" y="424.40" width="4.4" height="4.4" fill="#ff8a00"/>
<rect x="400.40" y="435.92" width="4.4" height="4.4" fill="#ff8a00"/>
<rect x="400.40" y="440.24" width="4.4" height="4.4" fill="#ff8a00"/>
<rect x="405.40" y="446.11" width="4.4" height="4.4" fill="#ff8a00"/>
<rect x="400.40" y="446.88" width="4.4" height="4.4" fill="#ff8a00"/>
<rect x="396.40" y="449.76" width="4.4" height="4.4" fill="#ff8a00"/>
<text x="402.6" y="416.14" font-family="Liberation Sans" font-size="7" fill="#3a3a6a" text-anchor="middle">#</text>
<path d="M424.3,457.5 V459.7" stroke="#5e5eb0" stroke-width="1"/>
<text x="424.3" y="467.2" font-family="Liberation Sans" font-size="6.6" fill="#222222" stroke="#222222" stroke-width="0.18" text-anchor="middle">APG</text>
<path d="M424.3,446.20 V454.95 M420.5,446.20 H428.1 M420.5,454.95 H428.1 M417.3,450.30 H431.3" stroke="#8c8c10" stroke-width="1.45" fill="none"/>
<path d="M420.30,439.54 L423.10,444.44 L417.50,444.44Z" fill="#8c8c10"/>
<path d="M427.30,443.97 L430.10,448.87 L424.50,448.87Z" fill="#8c8c10"/>
<path d="M420.30,446.18 L423.10,451.08 L417.50,451.08Z" fill="#8c8c10"/>
<path d="M428.30,449.73 L431.10,454.63 L425.50,454.63Z" fill="#8c8c10"/>
<path d="M420.30,452.61 L423.10,457.51 L417.50,457.51Z" fill="#8c8c10"/>
<path d="M428.30,452.61 L431.10,457.51 L425.50,457.51Z" fill="#8c8c10"/>
<text x="424.3" y="443.82" font-family="Liberation Sans" font-size="9" fill="#4a4a7a" text-anchor="middle">**</text>
<path d="M446.7,457.5 V459.7" stroke="#5e5eb0" stroke-width="1"/>
<text x="446.7" y="467.2" font-family="Liberation Sans" font-size="6.6" fill="#222222" stroke="#222222" stroke-width="0.18" text-anchor="middle">EALG</text>
<path d="M446.7,409.32 V427.15 M442.9,409.32 H450.5 M442.9,427.15 H450.5 M439.7,417.41 H453.7" stroke="#0c8a1c" stroke-width="1.45" fill="none"/>
<path d="M451.70,411.67 L454.50,406.77 L448.90,406.77Z" fill="#0c8a1c"/>
<path d="M446.70,413.88 L449.50,408.99 L443.90,408.99Z" fill="#0c8a1c"/>
<path d="M441.70,417.43 L444.50,412.53 L438.90,412.53Z" fill="#0c8a1c"/>
<path d="M448.70,420.31 L451.50,415.41 L445.90,415.41Z" fill="#0c8a1c"/>
<path d="M443.70,420.86 L446.50,415.96 L440.90,415.96Z" fill="#0c8a1c"/>
<path d="M441.70,435.92 L444.50,431.02 L438.90,431.02Z" fill="#0c8a1c"/>
<path d="M451.70,436.70 L454.50,431.80 L448.90,431.80Z" fill="#0c8a1c"/>
<text x="446.7" y="409.82" font-family="Liberation Sans" font-size="9" fill="#4a4a7a" text-anchor="middle">*</text>
<path d="M469.3,457.5 V459.7" stroke="#5e5eb0" stroke-width="1"/>
<text x="469.3" y="467.2" font-family="Liberation Sans" font-size="6.6" fill="#222222" stroke="#222222" stroke-width="0.18" text-anchor="middle">EAMG</text>
<path d="M469.3,424.27 V439.56 M465.5,424.27 H473.1 M465.5,439.56 H473.1 M462.3,431.81 H476.3" stroke="#0a1ef0" stroke-width="1.45" fill="none"/>
<path d="M469.30,414.51 L472.00,417.41 L469.30,420.31 L466.60,417.41Z" fill="#0a1ef0"/>
<path d="M469.30,423.15 L472.00,426.05 L469.30,428.95 L466.60,426.05Z" fill="#0a1ef0"/>
<path d="M464.30,430.12 L467.00,433.02 L464.30,435.92 L461.60,433.02Z" fill="#0a1ef0"/>
<path d="M474.30,433.78 L477.00,436.68 L474.30,439.58 L471.60,436.68Z" fill="#0a1ef0"/>
<path d="M465.30,435.22 L468.00,438.12 L465.30,441.02 L462.60,438.12Z" fill="#0a1ef0"/>
<path d="M473.30,435.22 L476.00,438.12 L473.30,441.02 L470.60,438.12Z" fill="#0a1ef0"/>
<path d="M469.30,436.66 L472.00,439.56 L469.30,442.46 L466.60,439.56Z" fill="#0a1ef0"/>
<path d="M491.5,457.5 V459.7" stroke="#5e5eb0" stroke-width="1"/>
<text x="491.5" y="467.2" font-family="Liberation Sans" font-size="6.6" fill="#222222" stroke="#222222" stroke-width="0.18" text-anchor="middle">EAHG</text>
<path d="M491.5,413.64 V432.36 M487.7,413.64 H495.3 M487.7,432.36 H495.3 M484.5,423.72 H498.5" stroke="#7a1f96" stroke-width="1.45" fill="none"/>
<circle cx="496.50" cy="410.21" r="2.6" fill="#7a1f96"/>
<circle cx="488.50" cy="413.09" r="2.6" fill="#7a1f96"/>
<circle cx="486.50" cy="422.84" r="2.6" fill="#7a1f96"/>
<circle cx="496.50" cy="423.39" r="2.6" fill="#7a1f96"/>
<circle cx="491.50" cy="424.83" r="2.6" fill="#7a1f96"/>
<circle cx="487.50" cy="426.38" r="2.6" fill="#7a1f96"/>
<circle cx="491.50" cy="430.70" r="2.6" fill="#7a1f96"/>
<circle cx="491.50" cy="434.46" r="2.6" fill="#7a1f96"/>
<text x="491.5" y="410.70" font-family="Liberation Sans" font-size="9" fill="#4a4a7a" text-anchor="middle">*</text>
<path d="M405.50,100.00 L405.50,148.00" stroke="#5b9bd5" stroke-width="3.0" fill="none" stroke-linejoin="miter"/>
<path d="M400.50,139.00 L405.50,147.40 L410.50,139.00" stroke="#5b9bd5" stroke-width="3.1" fill="none" stroke-linecap="round" stroke-linejoin="round"/>
<path d="M314.00,170.90 L370.00,170.90" stroke="#5b9bd5" stroke-width="3.0" fill="none" stroke-linejoin="miter"/>
<path d="M361.70,175.90 L370.10,170.90 L361.70,165.90" stroke="#5b9bd5" stroke-width="3.1" fill="none" stroke-linecap="round" stroke-linejoin="round"/>
<path d="M494.00,172.50 L445.00,172.50" stroke="#5b9bd5" stroke-width="3.0" fill="none" stroke-linejoin="miter"/>
<path d="M453.60,167.50 L445.20,172.50 L453.60,177.50" stroke="#5b9bd5" stroke-width="3.1" fill="none" stroke-linecap="round" stroke-linejoin="round"/>
<path d="M405.50,301.00 L405.50,194.50" stroke="#5b9bd5" stroke-width="3.0" fill="none" stroke-linejoin="miter"/>
<path d="M410.50,202.90 L405.50,194.50 L400.50,202.90" stroke="#5b9bd5" stroke-width="3.1" fill="none" stroke-linecap="round" stroke-linejoin="round"/>
<path d="M544.40,156.00 L544.40,108.50" stroke="#5b9bd5" stroke-width="3.0" fill="none" stroke-linejoin="miter"/>
<path d="M549.40,117.20 L544.40,108.80 L539.40,117.20" stroke="#5b9bd5" stroke-width="3.1" fill="none" stroke-linecap="round" stroke-linejoin="round"/>
<path d="M595.00,172.40 L699.50,172.40" stroke="#5b9bd5" stroke-width="3.0" fill="none" stroke-linejoin="miter"/>
<path d="M691.10,177.40 L699.50,172.40 L691.10,167.40" stroke="#5b9bd5" stroke-width="3.1" fill="none" stroke-linecap="round" stroke-linejoin="round"/>
<path d="M253.70,186.50 L253.70,250.60 L310.50,250.60" stroke="#5b9bd5" stroke-width="3.0" fill="none" stroke-linejoin="miter"/>
<path d="M302.10,255.60 L310.50,250.60 L302.10,245.60" stroke="#5b9bd5" stroke-width="3.1" fill="none" stroke-linecap="round" stroke-linejoin="round"/>
<path d="M544.60,189.00 L544.60,251.30 L383.00,251.30" stroke="#5b9bd5" stroke-width="3.0" fill="none" stroke-linejoin="miter"/>
<path d="M391.30,246.30 L382.90,251.30 L391.30,256.30" stroke="#5b9bd5" stroke-width="3.1" fill="none" stroke-linecap="round" stroke-linejoin="round"/>
<path d="M156.00,319.90 L216.50,319.90" stroke="#5b9bd5" stroke-width="3.0" fill="none" stroke-linejoin="miter"/>
<path d="M207.50,324.90 L215.90,319.90 L207.50,314.90" stroke="#5b9bd5" stroke-width="3.1" fill="none" stroke-linecap="round" stroke-linejoin="round"/>
<rect x="335.15" y="68.75" width="138.80" height="31.20" rx="5.5" fill="#fff" stroke="#70ad47" stroke-width="2.1"/>
<rect x="193.95" y="147.15" width="119.70" height="38.90" rx="5.5" fill="#fff" stroke="#70ad47" stroke-width="2.1"/>
<rect x="495.15" y="155.95" width="99.50" height="32.70" rx="5.5" fill="#fff" stroke="#70ad47" stroke-width="2.1"/>
<rect x="332.95" y="301.25" width="137.10" height="37.40" rx="5.5" fill="#fff" stroke="#70ad47" stroke-width="2.1"/>
<rect x="56.95" y="300.05" width="98.40" height="39.10" rx="5.5" fill="#fff" stroke="#70ad47" stroke-width="2.1"/>
<rect x="372.45" y="149.65" width="69.80" height="42.40" fill="#fff" stroke="url(#rg)" stroke-width="3.1"/>
<rect x="510.65" y="64.65" width="67.50" height="41.60" fill="#fff" stroke="url(#rg)" stroke-width="3.1"/>
<rect x="701.75" y="149.55" width="66.60" height="42.50" fill="#fff" stroke="url(#rg)" stroke-width="3.1"/>
<rect x="313.25" y="230.65" width="66.90" height="41.40" fill="#fff" stroke="url(#rg)" stroke-width="3.1"/>
<rect x="218.65" y="298.45" width="66.90" height="42.40" fill="#fff" stroke="url(#rg)" stroke-width="3.1"/>
<text x="383.5" y="180.9" font-family="Liberation Serif" font-size="17.5" fill="#111" stroke="#111" stroke-width="0.35" textLength="48" lengthAdjust="spacingAndGlyphs">TNF-α</text>
<text x="523.4" y="95.8" font-family="Liberation Serif" font-size="17.5" fill="#111" stroke="#111" stroke-width="0.35" textLength="39.7" lengthAdjust="spacingAndGlyphs">MDA</text>
<text x="713.4" y="180.7" font-family="Liberation Serif" font-size="17.5" fill="#111" stroke="#111" stroke-width="0.35" textLength="42" lengthAdjust="spacingAndGlyphs">PEG2</text>
<text x="331.3" y="261.6" font-family="Liberation Serif" font-size="17.5" fill="#111" stroke="#111" stroke-width="0.35" textLength="30.2" lengthAdjust="spacingAndGlyphs">IL-6</text>
<text x="234.8" y="329.7" font-family="Liberation Serif" font-size="17.5" fill="#111" stroke="#111" stroke-width="0.35" textLength="34.3" lengthAdjust="spacingAndGlyphs">SOD</text>
<text x="358.8" y="90.5" font-family="Liberation Serif" font-size="13.5" fill="#1f1ff2" stroke="#1f1ff2" stroke-width="0.35" textLength="92.2" lengthAdjust="spacingAndGlyphs">D–(–)–lactic acid</text>
<text x="205.8" y="172.0" font-family="Liberation Serif" font-size="13.5" fill="#1f1ff2" stroke="#1f1ff2" stroke-width="0.35" textLength="84.5" lengthAdjust="spacingAndGlyphs">phosphoric acid</text>
<text x="522.3" y="177.9" font-family="Liberation Serif" font-size="13.5" fill="#1f1ff2" stroke="#1f1ff2" stroke-width="0.35" textLength="45.7" lengthAdjust="spacingAndGlyphs">Glycerin</text>
<text x="356.1" y="325.5" font-family="Liberation Serif" font-size="13.5" fill="#1f1ff2" stroke="#1f1ff2" stroke-width="0.35" textLength="90.9" lengthAdjust="spacingAndGlyphs">5–oxo–L–proline</text>
<text x="82.2" y="324.6" font-family="Liberation Serif" font-size="13.5" fill="#1f1ff2" stroke="#1f1ff2" stroke-width="0.35" textLength="53.6" lengthAdjust="spacingAndGlyphs">Oleic acid</text>
<path d="M455.80,92.90 V79.80 M451.00,87.30 L455.80,79.40 L460.60,87.30" stroke="#ff1a1a" stroke-width="1.5" fill="none" stroke-linejoin="round" stroke-linecap="round"/>
<path d="M300.40,172.10 V159.30 M295.80,166.40 L300.40,158.90 L305.00,166.40" stroke="#ff1a1a" stroke-width="1.5" fill="none" stroke-linejoin="round" stroke-linecap="round"/>
<path d="M585.30,179.70 V166.60 M580.60,173.80 L585.30,166.20 L590.00,173.80" stroke="#ff1a1a" stroke-width="1.5" fill="none" stroke-linejoin="round" stroke-linecap="round"/>
<path d="M455.30,328.50 V315.70 M450.45,323.20 L455.30,315.30 L460.15,323.20" stroke="#ff1a1a" stroke-width="1.5" fill="none" stroke-linejoin="round" stroke-linecap="round"/>
<path d="M142.30,314.50 V327.00 M137.55,319.80 L142.30,327.40 L147.05,319.80" stroke="#1fa878" stroke-width="1.5" fill="none" stroke-linejoin="round" stroke-linecap="round"/>
<text x="413.5" y="131.1" font-family="Liberation Sans" font-size="16.5" fill="url(#dg)" stroke="url(#dg)" stroke-width="0.3" textLength="39" lengthAdjust="spacingAndGlyphs">down</text>
<text x="319.2" y="166.5" font-family="Liberation Sans" font-size="16.5" fill="url(#dg)" stroke="url(#dg)" stroke-width="0.3" textLength="39.2" lengthAdjust="spacingAndGlyphs">down</text>
<text x="449.3" y="163.39999999999998" font-family="Liberation Sans" font-size="16.5" fill="url(#dg)" stroke="url(#dg)" stroke-width="0.3" textLength="39.4" lengthAdjust="spacingAndGlyphs">down</text>
<text x="549.5" y="141.29999999999998" font-family="Liberation Sans" font-size="16.5" fill="url(#dg)" stroke="url(#dg)" stroke-width="0.3" textLength="39.4" lengthAdjust="spacingAndGlyphs">down</text>
<text x="611.6" y="164.89999999999998" font-family="Liberation Sans" font-size="16.5" fill="url(#dg)" stroke="url(#dg)" stroke-width="0.3" textLength="39.5" lengthAdjust="spacingAndGlyphs">down</text>
<text x="238.0" y="269.5" font-family="Liberation Sans" font-size="16.5" fill="url(#dg)" stroke="url(#dg)" stroke-width="0.3" textLength="39.1" lengthAdjust="spacingAndGlyphs">down</text>
<text x="414.6" y="233.29999999999998" font-family="Liberation Sans" font-size="16.5" fill="url(#dg)" stroke="url(#dg)" stroke-width="0.3" textLength="39.7" lengthAdjust="spacingAndGlyphs">down</text>
<text x="498.2" y="268.7" font-family="Liberation Sans" font-size="16.5" fill="url(#dg)" stroke="url(#dg)" stroke-width="0.3" textLength="39.2" lengthAdjust="spacingAndGlyphs">down</text>
<text x="178.9" y="310.0" font-family="Liberation Sans" font-size="15.5" fill="url(#ug)" stroke="url(#ug)" stroke-width="0.3" textLength="17.2" lengthAdjust="spacingAndGlyphs">up</text>
</svg>
</body></html>
